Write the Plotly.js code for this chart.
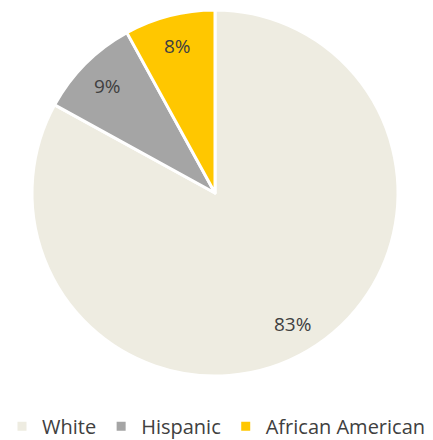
<!DOCTYPE html>
<html>
<head>
<meta charset="utf-8">
<script src="https://cdn.plot.ly/plotly-3.0.1.min.js"></script>
<style>html,body{margin:0;padding:0;background:#fff;}#chart{width:433px;height:440px;}</style>
</head>
<body>
<div id="chart"></div>
<script>
const categories = ["White", "Hispanic", "African American"];
const shares = [83, 9, 8];
const sliceColors = ["#EEECE1", "#A5A5A5", "#FFC700"];

const W = 433, H = 440;
const cx = 215, cy = 193, R = 183;
const labelRadius = 0.83;

const trace = {
  type: "pie",
  labels: categories,
  values: shares,
  sort: false,
  direction: "clockwise",
  rotation: 0,
  marker: { colors: sliceColors, line: { color: "#FFFFFF", width: 3 } },
  textinfo: "none",
  hoverinfo: "label+percent",
  domain: { x: [(cx - R) / W, (cx + R) / W], y: [1 - (cy + R) / H, 1 - (cy - R) / H] }
};

// labels placed on each slice bisector, computed from the data
const total = shares.reduce((a, b) => a + b, 0);
let cum = 0;
const annotations = shares.map((v) => {
  const mid = (cum + v / 2) / total * 2 * Math.PI;
  cum += v;
  const px = cx + Math.sin(mid) * R * labelRadius;
  const py = cy - Math.cos(mid) * R * labelRadius;
  return {
    x: px / W, y: 1 - py / H, xref: "paper", yref: "paper",
    text: Math.round(v / total * 100) + "%", showarrow: false,
    xanchor: "center", yanchor: "middle",
    font: { family: "Open Sans, Liberation Sans, sans-serif", size: 19, color: "#404040" }
  };
});

const layout = {
  width: W, height: H,
  margin: { l: 0, r: 0, t: 0, b: 0, autoexpand: false },
  paper_bgcolor: "#FFFFFF",
  showlegend: true,
  annotations: annotations,
  legend: {
    orientation: "h", x: 0.5, xanchor: "center", y: -0.013, yanchor: "bottom",
    font: { family: "Open Sans, Liberation Sans, sans-serif", size: 20, color: "#404040" },
    itemwidth: 30, tracegroupgap: 0
  }
};

Plotly.newPlot("chart", [trace], layout, { displayModeBar: false, staticPlot: true });
</script>
</body>
</html>
